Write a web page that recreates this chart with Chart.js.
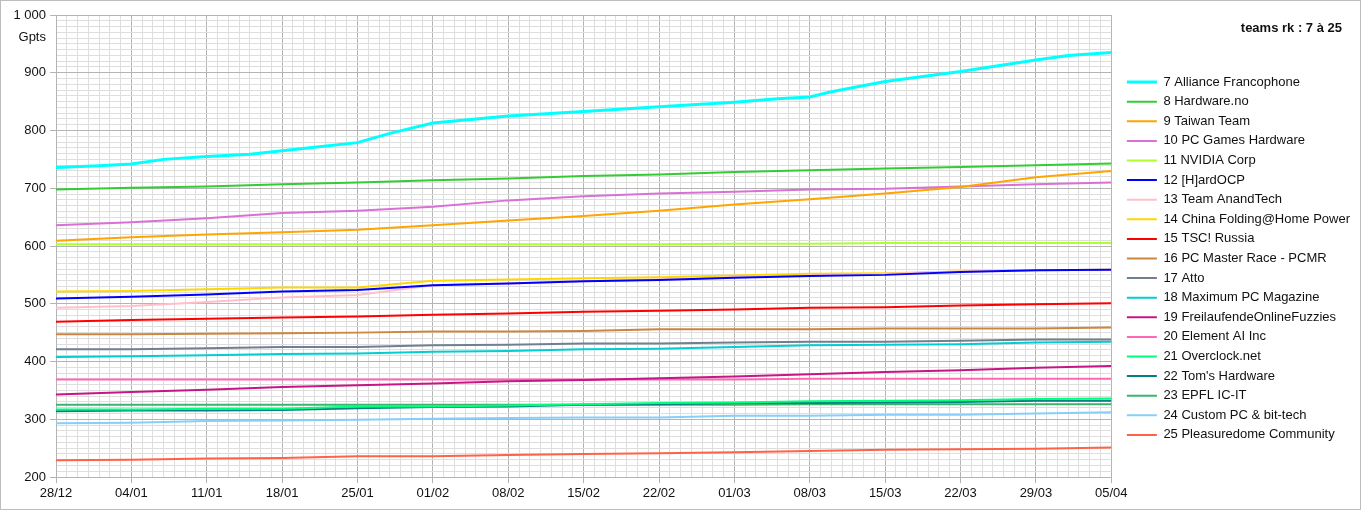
<!DOCTYPE html>
<html>
<head>
<meta charset="utf-8">
<script src="https://cdn.jsdelivr.net/npm/chart.js@4.4.1/dist/chart.umd.min.js"></script>
<style>
  body { margin: 0; background: #fff; }
  #wrap {
    position: relative; width: 1361px; height: 510px;
    box-sizing: border-box; border: 1px solid #bdbdbd;
    font-family: "Liberation Sans", Arial, sans-serif; color: #111;
  }
  #chart { position: absolute; left: 0; top: 0; }
  #title { position: absolute; right: 18px; top: 19px; font-size: 13px; line-height: 15px; font-weight: bold; }
  #unit { position: absolute; left: 0; width: 45px; top: 28px; text-align: right; font-size: 13px; line-height: 15px; }
</style>
</head>
<body>
<div id="wrap">
  <canvas id="chart" width="1359" height="508"></canvas>
  <div id="title">teams rk : 7 à 25</div>
  <div id="unit">Gpts</div>
</div>
<script>
// x axis: days since 28/12, one label per week
const tickLabels = ["28/12", "04/01", "11/01", "18/01", "25/01", "01/02", "08/02", "15/02",
    "22/02", "01/03", "08/03", "15/03", "22/03", "29/03", "05/04"];
const days = [0, 7, 14, 21, 28, 35, 42, 49, 56, 63, 70, 77, 84, 91, 98];

// Alliance Francophone is read at more dates (its curve bends)
const afDays = [0, 4, 7, 10, 14, 18, 21, 24, 28, 31, 35, 42, 49, 56, 63, 67, 70, 72, 77, 84, 91, 94, 98];
const allianceFrancophone = [736, 739, 742, 750, 755, 759, 765, 771, 779, 795, 813, 825, 833, 841, 849, 855, 858, 867, 885, 902, 922, 930, 935];

// the other teams, one value per week
const hardwareNo      = [698, 701, 703, 707, 710, 714, 717, 721, 724, 728, 731, 734, 737, 740, 743];
const taiwanTeam      = [609, 615, 620, 624, 628, 636, 644, 652, 661, 672, 681, 691, 702, 719, 730];
const pcGamesHardware = [636, 641, 648, 657, 661, 668, 679, 686, 691, 694, 698, 699, 703, 707, 710];
const nvidiaCorp      = [603, 603, 603, 603, 603, 603, 603, 603, 603, 604, 604, 605, 605, 605, 605];
const hardOCP         = [509, 512, 516, 521, 524, 532, 535, 539, 541, 545, 548, 550, 555, 558, 559];
const teamAnandTech   = [493, 496, 503, 511, 515, 532, 535, 539, 542, 546, 549, 552, 556, 558, 559];
const chinaFolding    = [521, 522, 525, 528, 528, 540, 542, 544, 546, 549, 552, 553, 556, 558, 559];
const tscRussia       = [469, 472, 474, 476, 478, 481, 483, 486, 488, 490, 493, 494, 497, 499, 501];
const pcMasterRace    = [447, 447, 448, 449, 450, 452, 452, 453, 456, 456, 456, 457, 457, 457, 459];
const atto            = [421, 421, 423, 425, 425, 428, 429, 431, 431, 433, 434, 434, 436, 438, 438];
const maximumPC       = [408, 409, 411, 413, 414, 417, 418, 421, 422, 425, 428, 429, 430, 433, 434];
const freilaufende    = [343, 347, 351, 356, 359, 362, 366, 368, 371, 374, 378, 382, 385, 389, 392];
const elementAI       = [369, 369, 369, 369, 369, 369, 369, 369, 369, 369, 370, 370, 370, 370, 370];
const overclockNet    = [317, 317, 318, 318, 322, 322, 324, 326, 328, 329, 331, 332, 333, 335, 336];
const tomsHardware    = [314, 315, 315, 316, 319, 321, 322, 325, 326, 328, 328, 329, 330, 332, 332];
const epflIcIt        = [325, 325, 325, 325, 325, 325, 325, 325, 325, 325, 326, 326, 326, 326, 326];
const customPC        = [293, 294, 297, 298, 299, 301, 302, 303, 303, 306, 306, 308, 308, 310, 312];
const pleasuredome    = [229, 230, 232, 233, 236, 236, 238, 240, 241, 243, 245, 247, 248, 249, 251];

const teams = [
    ["7 Alliance Francophone", "#00ffff", allianceFrancophone, afDays],
    ["8 Hardware.no", "#33cc33", hardwareNo],
    ["9 Taiwan Team", "#ffa500", taiwanTeam],
    ["10 PC Games Hardware", "#da70d6", pcGamesHardware],
    ["11 NVIDIA Corp", "#adff2f", nvidiaCorp],
    ["12 [H]ardOCP", "#0000ff", hardOCP],
    ["13 Team AnandTech", "#ffc0cb", teamAnandTech],
    ["14 China Folding@Home Power", "#ffd700", chinaFolding],
    ["15 TSC! Russia", "#ff0000", tscRussia],
    ["16 PC Master Race - PCMR", "#cd853f", pcMasterRace],
    ["17 Atto", "#708090", atto],
    ["18 Maximum PC Magazine", "#00ced1", maximumPC],
    ["19 FreilaufendeOnlineFuzzies", "#c71585", freilaufende],
    ["20 Element AI Inc", "#ff69b4", elementAI],
    ["21 Overclock.net", "#00ff7f", overclockNet],
    ["22 Tom's Hardware", "#008080", tomsHardware],
    ["23 EPFL IC-IT", "#3cb371", epflIcIt],
    ["24 Custom PC & bit-tech", "#87cefa", customPC],
    ["25 Pleasuredome Community", "#ff6347", pleasuredome]
];

const datasets = teams.map(([label, color, values, xs], i) => ({
    label: label,
    data: values.map((v, j) => ({ x: (xs || days)[j], y: v })),
    borderColor: color,
    backgroundColor: color,
    borderWidth: i === 0 ? 3 : 2,
    pointRadius: 0,
    fill: false,
    tension: 0
}));

const MAJOR = "#b4b4b4";
const MINOR = "#dedede";

Chart.defaults.font.family = '"Liberation Sans", Arial, sans-serif';
Chart.defaults.font.size = 13;
Chart.defaults.color = "#111";

new Chart(document.getElementById("chart"), {
    type: "line",
    data: { datasets },
    options: {
        responsive: false,
        animation: false,
        events: [],
        layout: { padding: { left: 0, right: 0, top: 14, bottom: 7 } },
        plugins: {
            tooltip: { enabled: false },
            legend: {
                position: "right",
                align: "center",
                maxWidth: 400,
                labels: {
                    usePointStyle: true,
                    pointStyle: "line",
                    pointStyleWidth: 30,
                    padding: 6.6,
                    color: "#111",
                    font: { size: 13 }
                }
            }
        },
        scales: {
            x: {
                type: "linear",
                min: 0,
                max: 98,
                afterFit: s => { s.height = 25; },
                ticks: {
                    stepSize: 1,
                    autoSkip: false,
                    maxRotation: 0,
                    padding: 3,
                    callback: v => (v % 7 === 0 ? tickLabels[v / 7] : "")
                },
                grid: {
                    color: c => (c.tick && c.tick.value % 7 === 0 ? MAJOR : MINOR),
                    tickColor: c => (c.tick && c.tick.value % 7 === 0 ? MAJOR : "rgba(0,0,0,0)"),
                    tickLength: 6
                },
                border: { color: MAJOR }
            },
            y: {
                min: 200,
                max: 1000,
                afterFit: s => { s.width = 55; },
                ticks: {
                    stepSize: 10,
                    autoSkip: false,
                    padding: 4,
                    callback: v => (v % 100 === 0 ? String(v).replace(/\B(?=(\d{3})+(?!\d))/g, " ") : "")
                },
                grid: {
                    color: c => (c.tick && c.tick.value % 100 === 0 ? MAJOR : MINOR),
                    tickColor: c => (c.tick && c.tick.value % 100 === 0 ? MAJOR : "rgba(0,0,0,0)"),
                    tickLength: 6
                },
                border: { color: MAJOR }
            },
            // empty axis, only keeps a gap between plot and legend
            gap: {
                type: "linear",
                position: "right",
                afterFit: s => { s.width = 9; },
                ticks: { display: false },
                grid: { display: false },
                border: { display: false }
            }
        }
    }
});
</script>
</body>
</html>
